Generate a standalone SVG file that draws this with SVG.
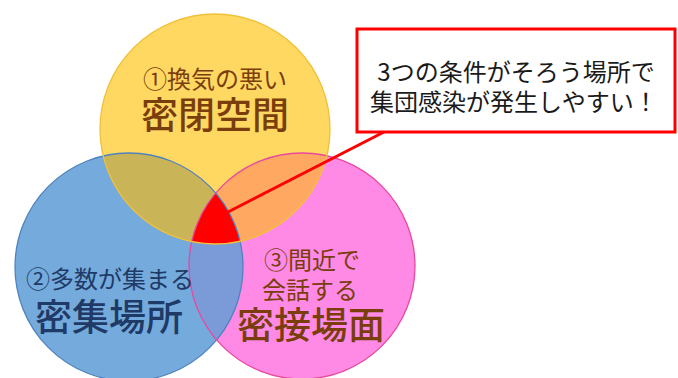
<svg xmlns="http://www.w3.org/2000/svg" width="678" height="378" viewBox="0 0 678 378">
<style>
text{font-family:"Noto Sans CJK JP","Noto Sans",sans-serif;text-anchor:middle;dominant-baseline:central}
.sub{font-size:24px}
.big{font-size:37px;font-weight:500}
.brown{fill:#7A3D0C}
.navy{fill:#1F3A66}
.dark{fill:#1A1A1A;font-size:24px}
</style>
<defs>
<clipPath id="cy"><circle cx="215" cy="129" r="115"/></clipPath>
<clipPath id="cb"><circle cx="129" cy="267" r="114"/></clipPath>
<clipPath id="cp"><circle cx="302" cy="266" r="113"/></clipPath>
</defs>
<rect width="678" height="378" fill="#FFFFFF"/>
<g id="blue-circle"><circle cx="129" cy="267" r="114" fill="#74AADC"/></g>
<g id="pink-circle"><circle cx="302" cy="266" r="113" fill="#FF8AE6"/></g>
<g id="yellow-circle"><circle cx="215" cy="129" r="115" fill="#FFD862"/></g>
<g id="overlaps">
<circle cx="129" cy="267" r="114" fill="#C9B458" clip-path="url(#cy)"/>
<circle cx="302" cy="266" r="113" fill="#FFA862" clip-path="url(#cy)"/>
<circle cx="302" cy="266" r="113" fill="#7B9AD8" clip-path="url(#cb)"/>
<g clip-path="url(#cy)"><circle cx="302" cy="266" r="113" fill="#FF0000" clip-path="url(#cb)"/></g>
</g>
<g id="outlines" fill="none" stroke-width="1.3">
<circle cx="129" cy="267" r="114" stroke="#4F82BE"/>
<circle cx="302" cy="266" r="113" stroke="#E8489E"/>
<circle cx="215" cy="129" r="115" stroke="#F0C03A"/>
</g>
<g id="connectors"><line x1="384" y1="132" x2="228" y2="212" stroke="#FF0000" stroke-width="3"/></g>
<g id="callout">
<rect x="357" y="29" width="318" height="103" fill="#FFFFFF" stroke="#FF0000" stroke-width="3"/>
<text class="dark"><tspan x="516" y="70">3つの条件がそろう場所で</tspan><tspan x="514" y="100">集団感染が発生しやすい！</tspan></text>
</g>
<g id="node-closed">
<text class="brown"><tspan class="sub" x="215" y="77">①換気の悪い</tspan><tspan class="big" x="215" y="113">密閉空間</tspan></text>
</g>
<g id="node-crowded">
<text class="navy"><tspan class="sub" x="110" y="277">②多数が集まる</tspan><tspan class="big" x="109" y="315">密集場所</tspan></text>
</g>
<g id="node-close">
<text class="brown"><tspan class="sub" x="312" y="258">③間近で</tspan><tspan class="sub" x="310" y="288">会話する</tspan><tspan class="big" x="311" y="323">密接場面</tspan></text>
</g>
</svg>
